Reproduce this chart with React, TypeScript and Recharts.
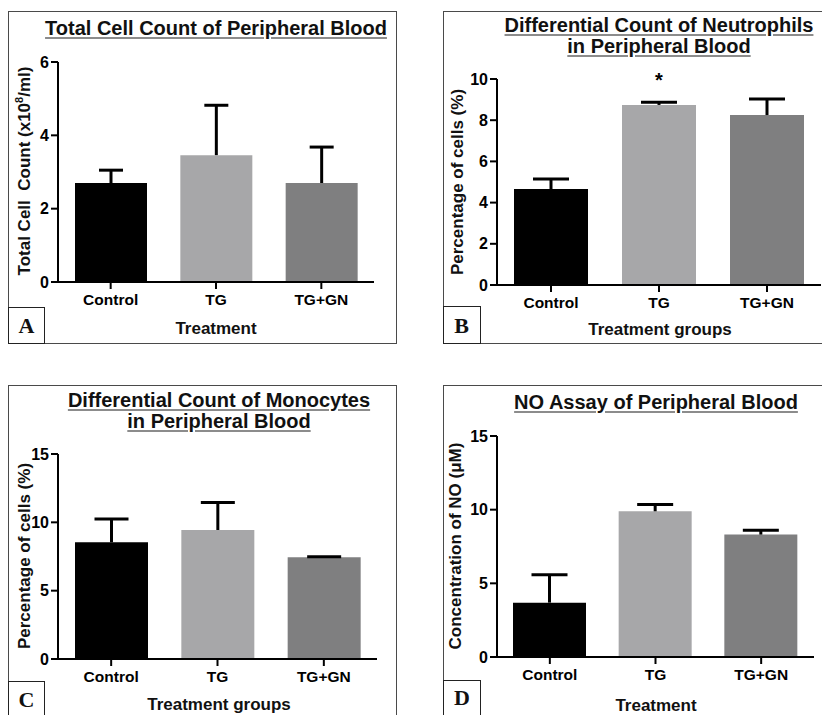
import React from 'react';
import { BarChart, Bar, XAxis, YAxis, Cell, LabelList } from 'recharts';

const FONT = '"Liberation Sans", Arial, sans-serif';
const SERIF = '"Liberation Serif", "Times New Roman", serif';

const groups = ['Control', 'TG', 'TG+GN'];
const barColors = ['#000000', '#a7a7a9', '#7f7f80'];

// A - total cell count (x10^8/ml)
const totalMean = [2.7, 3.46, 2.7];
const totalErr = [0.35, 1.36, 0.98];
const totalTicks = [0, 2, 4, 6];

// B - neutrophils (%)
const neutroMean = [4.66, 8.74, 8.25];
const neutroErr = [0.48, 0.13, 0.78];
const neutroSig = ['', '*', ''];
const neutroTicks = [0, 2, 4, 6, 8, 10];

// C - monocytes (%)
const monoMean = [8.54, 9.44, 7.44];
const monoErr = [1.7, 2.02, 0.05];
const monoTicks = [0, 5, 10, 15];

// D - NO (uM)
const noMean = [3.69, 9.89, 8.31];
const noErr = [1.9, 0.46, 0.29];
const noTicks = [0, 5, 10, 15];

const rows = (mean: number[], err: number[], sig?: string[]) =>
    groups.map((g, i) => ({ group: g, mean: mean[i], err: err[i], sig: sig ? sig[i] : '' }));

// upper whisker only, drawn from the stacked err segment
const whisker = (cap: number) => (props: any) => {
    const { x, y, width, height } = props;
    if (x == null || y == null) return <g />;
    const cx = x + width / 2;
    return (
        <g>
            <line x1={cx} x2={cx} y1={y + height} y2={y} stroke="#000" strokeWidth={3} />
            <line x1={cx - cap / 2} x2={cx + cap / 2} y1={y} y2={y} stroke="#000" strokeWidth={3} />
        </g>
    );
};

interface Plot { x0: number; x1: number; y0: number; y1: number }

interface PanelChartProps {
    plot: Plot;
    data: { group: string; mean: number; err: number; sig: string }[];
    ticks: number[];
    barSize: number;
    cap: number;
}

function PanelChart({ plot, data, ticks, barSize, cap }: PanelChartProps) {
    const left = plot.x0 - 50;
    const top = plot.y0 - 20;
    const width = plot.x1 - left + 10;
    const height = plot.y1 - top + 40;
    return (
        <div style={{ position: 'absolute', left, top, width, height }}>
            <BarChart
                width={width}
                height={height}
                data={data}
                barSize={barSize}
                margin={{ top: 20, right: 10, bottom: 10, left: 10 }}
                style={{ fontFamily: FONT }}
            >
                <XAxis
                    dataKey="group"
                    height={30}
                    stroke="#000"
                    axisLine={{ stroke: '#000', strokeWidth: 2 }}
                    tickLine={{ stroke: '#000', strokeWidth: 2 }}
                    tickSize={7}
                    tickMargin={5}
                    interval={0}
                    tick={{ fill: '#000', fontSize: 15.5, fontWeight: 700, fontFamily: FONT }}
                />
                <YAxis
                    width={40}
                    domain={[ticks[0], ticks[ticks.length - 1]]}
                    ticks={ticks}
                    stroke="#000"
                    axisLine={{ stroke: '#000', strokeWidth: 2 }}
                    tickLine={{ stroke: '#000', strokeWidth: 2 }}
                    tickSize={7}
                    tickMargin={2}
                    tick={{ fill: '#000', fontSize: 16, fontWeight: 700, fontFamily: FONT }}
                />
                <Bar dataKey="mean" stackId="a" isAnimationActive={false}>
                    {data.map((d, i) => (
                        <Cell key={d.group} fill={barColors[i]} />
                    ))}
                </Bar>
                <Bar dataKey="err" stackId="a" isAnimationActive={false} shape={whisker(cap)}>
                    <LabelList
                        dataKey="sig"
                        position="top"
                        offset={15}
                        fill="#000"
                        fontSize={20}
                        fontWeight={700}
                        fontFamily={FONT}
                    />
                </Bar>
            </BarChart>
        </div>
    );
}

const titleStyle: React.CSSProperties = {
    position: 'absolute',
    width: 400,
    textAlign: 'center',
    fontFamily: FONT,
    fontWeight: 700,
    fontSize: 20,
    lineHeight: '21px',
    color: '#111',
    textDecoration: 'underline',
    textDecorationColor: '#8c8c8c',
    textDecorationThickness: '1.5px',
    textUnderlineOffset: '2px',
    whiteSpace: 'pre',
};

function Title({ cx, top, lines }: { cx: number; top: number; lines: string[] }) {
    return (
        <div style={{ ...titleStyle, left: cx - 200, top }}>
            {lines.map((l) => (
                <div key={l}>{l}</div>
            ))}
        </div>
    );
}

const axisTitle: React.CSSProperties = {
    position: 'absolute',
    fontFamily: FONT,
    fontWeight: 700,
    fontSize: 17,
    color: '#111',
    textAlign: 'center',
    whiteSpace: 'pre',
};

function XTitle({ cx, top, text }: { cx: number; top: number; text: string }) {
    return <div style={{ ...axisTitle, left: cx - 150, top, width: 300, lineHeight: '17px' }}>{text}</div>;
}

function YTitle({ cx, cy, children }: { cx: number; cy: number; children: React.ReactNode }) {
    const len = 300;
    return (
        <div
            style={{
                ...axisTitle,
                left: cx - len / 2,
                top: cy - 11,
                width: len,
                height: 22,
                lineHeight: '22px',
                transform: 'rotate(-90deg)',
            }}
        >
            {children}
        </div>
    );
}

function Frame({ left, top, width, height, noRight, noBottom }: any) {
    return (
        <div
            style={{
                position: 'absolute',
                left,
                top,
                width,
                height,
                boxSizing: 'border-box',
                borderTop: '1.5px solid #4a4a4a',
                borderLeft: '1.5px solid #4a4a4a',
                borderRight: noRight ? 'none' : '1.5px solid #4a4a4a',
                borderBottom: noBottom ? 'none' : '1.5px solid #4a4a4a',
            }}
        />
    );
}

function Letter({ left, top, width, height, cx, baseline, text }: any) {
    return (
        <>
            <div
                style={{
                    position: 'absolute',
                    left,
                    top,
                    width,
                    height,
                    boxSizing: 'border-box',
                    border: '1.5px solid #222',
                    background: '#fff',
                }}
            />
            <div
                style={{
                    position: 'absolute',
                    left: cx - 20,
                    top: baseline - 19.4,
                    width: 40,
                    textAlign: 'center',
                    fontFamily: SERIF,
                    fontWeight: 700,
                    fontSize: 22,
                    lineHeight: '24px',
                    color: '#111',
                }}
            >
                {text}
            </div>
        </>
    );
}

export default function App() {
    return (
        <div
            style={{
                position: 'absolute',
                left: 0,
                top: 0,
                width: 822,
                height: 715,
                overflow: 'hidden',
                background: '#fff',
            }}
        >
            <Frame left={8} top={11} width={389} height={333} />
            <Frame left={443} top={11} width={400} height={333} noRight />
            <Frame left={8} top={385} width={389} height={340} noBottom />
            <Frame left={443} top={385} width={400} height={340} noRight noBottom />

            {/* A */}
            <Title cx={216} top={17.6} lines={['Total Cell Count of Peripheral Blood']} />
            <PanelChart
                plot={{ x0: 58, x1: 374, y0: 62, y1: 282 }}
                data={rows(totalMean, totalErr)}
                ticks={totalTicks}
                barSize={72}
                cap={24}
            />
            <YTitle cx={25} cy={171}>
                {'Total Cell  Count (x10'}
                <span style={{ fontSize: 11, verticalAlign: 'super', lineHeight: 0 }}>8</span>
                {'/ml)'}
            </YTitle>
            <XTitle cx={216} top={319.6} text="Treatment" />
            <Letter left={8} top={307} width={37} height={37} cx={26.5} baseline={333} text="A" />

            {/* B */}
            <Title cx={659} top={14.6} lines={['Differential Count of Neutrophils', 'in Peripheral Blood']} />
            <PanelChart
                plot={{ x0: 497, x1: 821, y0: 79, y1: 285 }}
                data={rows(neutroMean, neutroErr, neutroSig)}
                ticks={neutroTicks}
                barSize={74}
                cap={36}
            />
            <YTitle cx={458} cy={182}>
                Percentage of cells (%)
            </YTitle>
            <XTitle cx={660} top={320.6} text="Treatment groups" />
            <Letter left={443} top={306} width={38} height={38} cx={461.5} baseline={333} text="B" />

            {/* C */}
            <Title cx={219} top={389.6} lines={['Differential Count of Monocytes', 'in Peripheral Blood']} />
            <PanelChart
                plot={{ x0: 58, x1: 377, y0: 454, y1: 659 }}
                data={rows(monoMean, monoErr)}
                ticks={monoTicks}
                barSize={73}
                cap={34}
            />
            <YTitle cx={24.5} cy={556}>
                Percentage of cells (%)
            </YTitle>
            <XTitle cx={219} top={695.6} text="Treatment groups" />
            <Letter left={8} top={681} width={37} height={40} cx={26.5} baseline={707} text="C" />

            {/* D */}
            <Title cx={656} top={391.6} lines={['NO Assay of Peripheral Blood']} />
            <PanelChart
                plot={{ x0: 497, x1: 814, y0: 436, y1: 657 }}
                data={rows(noMean, noErr)}
                ticks={noTicks}
                barSize={73}
                cap={36}
            />
            <YTitle cx={456} cy={546}>
                Concentration of NO (μM)
            </YTitle>
            <XTitle cx={656} top={697} text="Treatment" />
            <Letter left={443} top={680} width={38} height={40} cx={462} baseline={705} text="D" />
        </div>
    );
}
